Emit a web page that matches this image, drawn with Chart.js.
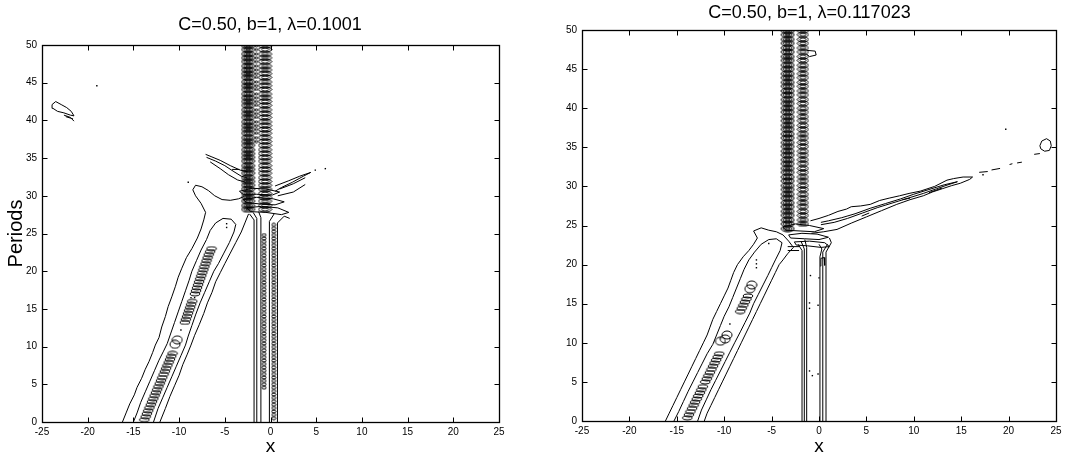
<!DOCTYPE html>
<html>
<head>
<meta charset="utf-8">
<script src="https://cdn.jsdelivr.net/npm/chart.js@4.4.1/dist/chart.umd.min.js"></script>
<style>
  html, body { margin: 0; background: #fff; }
  #wrap { position: relative; width: 1092px; height: 459px; }
  canvas { position: absolute; top: 0; }
</style>
</head>
<body>
<div id="wrap">
  <canvas id="left" width="540" height="459" style="left:0"></canvas>
  <canvas id="right" width="539" height="459" style="left:540px"></canvas>
</div>
<script>
// axis ticks and titles
const xTickVals = [-25, -20, -15, -10, -5, 0, 5, 10, 15, 20, 25];
const yTickVals = [0, 5, 10, 15, 20, 25, 30, 35, 40, 45, 50];
const titleL = 'C=0.50, b=1, \u03bb=0.1001';
const titleR = 'C=0.50, b=1, \u03bb=0.117023';

// ---------- left panel contours (x, Periods) ----------
const bandOuterL = [[-16.2,0],[-15.8,1.2],[-15.4,2.4],[-14.9,3.6],[-14.6,4.6],[-14.1,5.8],[-13.7,7.0],[-13.3,8.0],[-12.9,9.2],[-12.6,10.2],[-12.2,11.2],[-11.9,12.6],[-11.5,14.0],[-11.2,15.3],[-10.8,16.6],[-10.4,18.0],[-10.1,19.2],[-9.7,20.4],[-9.2,21.8],[-8.6,23.0],[-8.0,24.4],[-7.6,25.6],[-7.3,26.8],[-7.1,27.8],[-7.6,29.0],[-8.2,30.0],[-8.5,30.8],[-8.2,31.4],[-7.5,31.2],[-6.8,30.7],[-6.1,30.0],[-5.3,29.5],[-4.4,29.4],[-3.5,29.6],[-2.9,29.9]];
const bandOuterRightL = [[-2.4,27.6],[-2.8,26.4],[-3.2,25.2],[-3.8,23.8],[-4.4,22.4],[-5.0,21.0],[-5.5,19.8],[-6.0,18.6],[-6.4,17.2],[-6.9,15.8],[-7.3,14.4],[-7.8,12.9],[-8.3,11.5],[-8.7,10.2],[-9.1,9.0],[-9.6,7.6],[-10.0,6.2],[-10.5,4.8],[-11.0,3.4],[-11.5,1.8],[-12.1,0]];
const midL = [[-15.0,0],[-14.6,1.2],[-14.2,2.6],[-13.7,4.0],[-13.2,5.4],[-12.7,6.8],[-12.2,8.2],[-11.7,9.4],[-11.3,10.4],[-10.9,11.8],[-10.5,13.2],[-10.1,14.6],[-9.7,16.0],[-9.3,17.4],[-8.9,18.8],[-8.6,20.0],[-8.1,21.4],[-7.6,22.8],[-7.0,24.2],[-6.6,25.4],[-6.0,26.4],[-5.2,27.0],[-4.3,26.9],[-3.8,26.2],[-4.0,25.2],[-4.5,23.8],[-5.1,22.4],[-5.7,21.0],[-6.2,20.0],[-6.7,18.6],[-7.2,17.2],[-7.7,15.8],[-8.2,14.2],[-8.6,12.8],[-9.0,11.4],[-9.3,10.2],[-9.8,8.8],[-10.3,7.4],[-10.8,6.0],[-11.3,4.6],[-11.8,3.2],[-12.3,1.8],[-12.8,0]];
const coresL = [[-13.8,0.3],[-13.66,0.7],[-13.52,1.1],[-13.38,1.5],[-13.24,1.9],[-13.1,2.3],[-12.96,2.7],[-12.82,3.1],[-12.68,3.5],[-12.54,3.9],[-12.4,4.3],[-12.26,4.7],[-12.12,5.1],[-11.98,5.5],[-11.84,5.9],[-11.7,6.3],[-11.56,6.7],[-11.42,7.1],[-11.28,7.5],[-11.14,7.9],[-11.0,8.3],[-10.86,8.7],[-10.72,9.1],
  [-9.37,13.2],[-9.26,13.6],[-9.14,14.0],[-9.02,14.4],[-8.91,14.8],[-8.79,15.2],[-8.68,15.6],[-8.56,16.0],
  [-8.27,17.0],[-8.15,17.4],[-8.04,17.8],[-7.92,18.2],[-7.81,18.6],[-7.69,19.0],[-7.57,19.4],[-7.46,19.8],[-7.34,20.2],[-7.23,20.6],[-7.11,21.0],[-7.0,21.4],[-6.88,21.8],[-6.76,22.2],[-6.6,22.6],[-6.45,23.0]];
const blobCoresL = [[-10.45,10.3],[-10.2,10.9]];
const dotsL = [[-9.8,12.2],[-8.7,16.5],[-8.3,16.5],[-4.8,25.8],[-4.8,26.3],[-19.0,44.6],[-9.0,31.8],[4.9,33.4],[6.0,33.6]];
const lowerBeamL = [
  [[-1.8,0],[-1.8,26.8],[-2.3,27.6]],
  [[-1.5,0],[-1.5,27.0],[-1.9,27.8]],
  [[-1.05,0],[-1.05,27.1],[-1.3,27.9]],
  [[-0.12,0],[-0.12,26.6],[0.4,27.6]],
  [[0.76,0],[0.76,26.4],[1.5,27.3],[2.1,27.0]]
];
const crossL = [
  [[-3.4,30.6],[-2.0,31.0],[-0.5,30.9],[1.0,30.5],[0.2,30.1],[-1.5,30.2],[-3.0,30.2],[-3.4,30.6]],
  [[-3.0,29.5],[-1.5,29.8],[0.3,29.6],[1.5,29.2],[0.5,28.8],[-1.0,28.9],[-2.6,29.1],[-3.0,29.5]],
  [[-2.6,28.4],[-1.0,28.6],[0.8,28.4],[2.0,27.8],[1.2,27.5],[-0.5,27.8],[-2.2,27.9],[-2.6,28.4]]
];
const wingsL = [
  [[0.5,31.3],[2.0,32.0],[3.2,32.6],[4.4,33.1],[3.6,32.6],[2.4,31.8],[1.2,31.1],[0.5,30.6]],
  [[1.0,30.9],[2.5,31.6],[3.8,32.4]],
  [[0.8,30.0],[2.5,30.5],[3.8,31.5]],
  [[-7.1,35.5],[-6.5,35.2],[-5.5,34.7],[-4.4,34.0],[-3.3,33.4],[-2.5,33.2]],
  [[-7.0,35.1],[-6.0,34.6],[-5.0,34.0],[-4.0,33.2],[-3.2,32.6],[-2.6,32.4]],
  [[-6.6,34.5],[-5.5,33.6],[-4.6,32.8],[-3.6,32.1],[-2.7,31.8]],
  [[-4.2,33.5],[-3.4,33.5]]
];
const blobL = [[-23.9,42.1],[-23.5,42.5],[-22.9,42.1],[-22.3,41.7],[-21.8,41.2],[-21.5,40.6],[-21.9,40.7],[-22.6,41.0],[-23.3,41.2],[-23.8,41.6],[-23.9,42.1]];
const blobTailL = [[[-22.6,40.7],[-21.9,40.4],[-21.5,39.9]],[[-22.4,40.5],[-21.6,40.2]]];
const ringRowsL = [28.2,28.7,29.3,29.8,30.3,30.9,31.4,31.9,32.4,33.0,33.5,34.0,34.6,35.1,35.6,36.1,36.7,37.2,37.7,38.3,38.8,39.3,39.8,40.4,40.9,41.4,42.0,42.5,43.0,43.5,44.1,44.6,45.1,45.7,46.2,46.7,47.2,47.8,48.3,48.8,49.4,49.9];
const wigRowsL = [0.5,0.95,1.4,1.85,2.3,2.75,3.2,3.65,4.1,4.55,5.0,5.45,5.9,6.35,6.8,7.25,7.7,8.15,8.6,9.05,9.5,9.95,10.4,10.85,11.3,11.75,12.2,12.65,13.1,13.55,14.0,14.45,14.9,15.35,15.8,16.25,16.7,17.15,17.6,18.05,18.5,18.95,19.4,19.85,20.3,20.75,21.2,21.65,22.1,22.55,23.0,23.45,23.9,24.35,24.8,25.25,25.7,26.15];

// ---------- right panel contours ----------
const bandOuterR = [[-16.2,0],[-15.8,1.0],[-15.4,2.0],[-15.0,3.0],[-14.6,4.0],[-14.2,5.0],[-13.8,6.0],[-13.4,7.0],[-13.0,8.0],[-12.6,9.0],[-12.2,10.0],[-11.8,11.0],[-11.5,12.0],[-11.2,13.0],[-10.8,14.0],[-10.4,15.0],[-10.0,16.0],[-9.6,17.0],[-9.3,18.0],[-9.0,19.0],[-8.6,20.0],[-8.0,21.0],[-7.4,21.8],[-6.9,22.6],[-6.5,23.4],[-6.9,24.3],[-6.1,24.7],[-5.3,24.4],[-4.5,24.2],[-3.8,23.8],[-3.2,23.0],[-2.7,22.2],[-3.3,21.4],[-3.8,20.6],[-4.2,20.0],[-4.6,19.0],[-5.0,18.0],[-5.4,17.0],[-5.8,16.0],[-6.2,15.0],[-6.6,14.0],[-7.0,13.0],[-7.4,12.0],[-7.8,11.0],[-8.2,10.0],[-8.6,9.0],[-9.0,8.0],[-9.4,7.0],[-9.8,6.0],[-10.2,5.0],[-10.6,4.0],[-11.0,3.0],[-11.4,2.0],[-11.8,1.0],[-12.1,0]];
const midR = [[-15.3,0],[-14.8,1.2],[-14.3,2.5],[-13.8,3.8],[-13.3,5.0],[-12.8,6.2],[-12.3,7.4],[-11.8,8.6],[-11.2,9.8],[-10.8,11.0],[-10.4,12.2],[-10.0,13.4],[-9.5,14.6],[-9.1,15.8],[-8.7,17.0],[-8.3,18.2],[-7.9,19.4],[-7.4,20.6],[-6.8,21.6],[-6.1,22.6],[-5.3,23.2],[-4.5,23.3],[-3.9,22.8],[-4.1,21.8],[-4.6,20.6],[-5.0,19.6],[-5.4,18.6],[-5.9,17.4],[-6.4,16.2],[-6.9,15.0],[-7.3,13.8],[-7.8,12.6],[-8.3,11.4],[-8.9,10.0],[-9.4,8.8],[-9.9,7.6],[-10.4,6.4],[-10.9,5.2],[-11.4,4.0],[-11.9,2.7],[-12.4,1.4],[-12.8,0]];
const coresR = [[-13.89,0.4],[-13.72,0.8],[-13.56,1.2],[-13.39,1.6],[-13.23,2.0],[-13.07,2.4],[-12.9,2.8],[-12.74,3.2],[-12.57,3.6],[-12.41,4.0],[-12.25,4.4],
  [-12.0,5.0],[-11.84,5.4],[-11.67,5.8],[-11.51,6.2],[-11.34,6.6],[-11.18,7.0],[-11.02,7.4],[-10.85,7.8],[-10.69,8.2],[-10.52,8.6],
  [-8.31,14.0],[-8.15,14.4],[-7.98,14.8],[-7.82,15.2],[-7.65,15.6],[-7.49,16.0]];
const blobCoresR = [[-10.4,10.2],[-9.9,10.5],[-9.7,11.0],[-7.3,16.9],[-7.1,17.4]];
const dotsR = [[-9.4,12.4],[-6.6,19.6],[-6.6,20.1],[-6.6,20.6],[-5.3,22.7],[-1.0,6.4],[-0.7,5.8],[-0.1,6.0],[-1.0,15.1],[-1.0,14.4],[-0.1,14.8],[-0.9,18.6],[0.0,18.3],[17.3,31.5],[19.7,37.3]];
const lowerBeamR = [
  [[-1.79,0],[-1.79,21.8],[-2.2,22.6]],
  [[-1.55,0],[-1.55,22.0],[-1.9,23.0]],
  [[-1.3,0],[-1.3,22.2],[-1.5,23.2]],
  [[0.1,0],[0.1,21.0],[0.3,22.0],[0.0,22.6]],
  [[0.4,0],[0.4,21.6],[0.9,22.6]],
  [[0.74,0],[0.74,21.6],[1.3,22.8],[1.1,23.4]],
  [[0.15,19.8],[0.2,20.8],[0.55,20.9],[0.6,19.9]]
];
const crossR = [
  [[-3.8,24.8],[-2.5,25.2],[-1.0,25.0],[0.5,24.6],[-0.5,24.2],[-2.0,24.3],[-3.5,24.4],[-3.8,24.8]],
  [[-3.2,23.8],[-1.8,24.0],[-0.2,23.9],[1.0,23.5],[0.0,23.2],[-1.5,23.3],[-3.0,23.4],[-3.2,23.8]],
  [[-2.6,22.9],[-1.0,23.0],[0.6,22.8],[1.1,22.3],[0.2,22.2],[-1.2,22.4],[-2.4,22.5],[-2.6,22.9]],
  [[-3.3,22.3],[-2.1,22.3]],
  [[-3.3,21.8],[-2.1,21.8]],
  [[-1.3,47.4],[-0.4,47.3],[-0.3,46.8],[-1.0,46.6],[-1.3,46.9]]
];
const rayOuterR = [[-0.8,24.0],[0.5,24.2],[1.9,24.5],[3.4,25.3],[5.0,26.1],[6.6,26.9],[8.2,27.7],[9.6,28.3],[11.0,28.8],[12.0,29.3],[13.0,29.7],[14.0,30.1],[14.9,30.4],[15.9,30.9],[16.2,31.2],[15.2,31.2],[14.2,31.0],[13.5,30.8],[12.2,30.0],[10.7,29.4],[9.5,29.1],[8.5,28.8],[7.4,28.5],[6.4,28.2],[5.4,27.7],[4.4,27.5],[3.4,27.4],[2.9,27.1],[2.0,26.8],[1.0,26.3],[0.0,25.9],[-0.9,25.6]];
const rayInnerR = [[0.2,25.1],[1.6,25.4],[3.0,25.9],[4.6,26.6],[6.2,27.3],[7.8,27.9],[9.4,28.5],[11.0,29.1],[12.4,29.7],[13.6,30.2],[14.6,30.6],[13.2,30.2],[11.6,29.6],[10.0,29.0],[8.6,28.4],[7.0,27.8],[5.4,27.2],[3.8,26.5],[2.4,26.0],[1.0,25.6],[0.2,25.4]];
const rayDashesR = [
  [[8.8,28.3],[9.6,28.5]], [[4.5,26.2],[5.3,26.6]], [[11.6,29.2],[13.0,29.8]],
  [[16.9,31.8],[17.8,31.9]], [[18.2,32.1],[19.1,32.3]], [[20.1,32.8],[20.4,32.9]],
  [[20.9,33.0],[21.4,33.1]], [[22.7,34.1],[23.3,34.2]]
];
const blobR = [[23.3,35.2],[23.5,35.8],[24.0,36.1],[24.4,35.8],[24.5,35.2],[24.3,34.6],[23.8,34.5],[23.4,34.8],[23.3,35.2]];
const ringRowsR = [24.6,25.2,25.7,26.3,26.8,27.4,27.9,28.5,29.0,29.6,30.1,30.7,31.2,31.8,32.3,32.9,33.4,34.0,34.5,35.1,35.6,36.2,36.7,37.3,37.8,38.4,38.9,39.5,40.0,40.6,41.1,41.7,42.2,42.8,43.3,43.9,44.4,45.0,45.5,46.1,46.6,47.2,47.7,48.3,48.8,49.4,49.9];

// hollow ellipse used as point marker for the small closed contours
function ellipseImg(w, h) {
  const c = document.createElement('canvas');
  c.width = w + 2; c.height = h + 2;
  const g = c.getContext('2d');
  g.strokeStyle = '#000'; g.lineWidth = 1;
  g.beginPath();
  g.ellipse(c.width / 2, c.height / 2, w / 2, h / 2, 0, 0, Math.PI * 2);
  g.stroke();
  return c;
}

function curve(pts) {
  return { data: pts.map(([x, y]) => ({ x, y })), showLine: true, pointRadius: 0,
    borderColor: '#000', borderWidth: 1, fill: false };
}
function marks(pts, img) {
  return { data: pts.map(([x, y]) => ({ x, y })), showLine: false, pointStyle: img, pointRadius: 3 };
}
function beads(x, rows, lo, hi, img) {
  return { data: rows.filter(y => y >= lo && y <= hi).map(y => ({ x, y })), showLine: false,
    pointStyle: img, pointRadius: 3 };
}
function dots(pts) {
  return { data: pts.map(([x, y]) => ({ x, y })), showLine: false, pointStyle: 'rect',
    pointRadius: 1, backgroundColor: '#000', borderWidth: 0 };
}

// box with inward ticks on all four sides
const boxPlugin = {
  id: 'box',
  afterDraw(chart) {
    const { ctx, chartArea: a, scales: { x, y } } = chart;
    const L = Math.round(a.left) + 0.5, R = Math.round(a.right) + 0.5;
    const T = Math.round(a.top) + 0.5, B = Math.round(a.bottom) + 0.5;
    ctx.save();
    ctx.strokeStyle = '#000';
    ctx.lineWidth = 1;
    ctx.beginPath();
    xTickVals.forEach(v => {
      const p = Math.round(x.getPixelForValue(v)) + 0.5;
      ctx.moveTo(p, B); ctx.lineTo(p, B - 5);
      ctx.moveTo(p, T); ctx.lineTo(p, T + 5);
    });
    yTickVals.forEach(v => {
      const p = Math.round(y.getPixelForValue(v)) + 0.5;
      ctx.moveTo(L, p); ctx.lineTo(L + 5, p);
      ctx.moveTo(R, p); ctx.lineTo(R - 5, p);
    });
    ctx.stroke();
    ctx.lineWidth = 1.3;
    ctx.strokeRect(L, T, R - L, B - T);
    ctx.restore();
  }
};

Chart.defaults.font.family = '"Liberation Sans", Arial, sans-serif';
Chart.defaults.color = '#000';

function makeChart(id, datasets, o) {
  return new Chart(document.getElementById(id), {
    type: 'scatter',
    data: { datasets },
    options: {
      responsive: false,
      devicePixelRatio: 1,
      animation: false,
      events: [],
      plugins: {
        legend: { display: false },
        tooltip: { enabled: false },
        title: { display: true, text: o.title, color: '#000',
          font: { size: 18, weight: 'normal' }, padding: o.titlePad }
      },
      scales: {
        x: {
          type: 'linear', min: -25, max: 25, position: 'bottom',
          afterBuildTicks: s => { s.ticks = xTickVals.map(v => ({ value: v })); },
          afterFit: s => { s.height = o.xh; },
          grid: { display: false, drawTicks: false }, border: { display: false },
          ticks: { color: '#000', font: { size: 10 }, padding: 4, maxRotation: 0, autoSkip: false },
          title: { display: true, text: 'x', color: '#000', font: { size: 19 }, padding: { top: 0, bottom: 1 } }
        },
        y: {
          type: 'linear', min: 0, max: 50, position: 'left',
          afterBuildTicks: s => { s.ticks = yTickVals.map(v => ({ value: v })); },
          afterFit: s => { s.width = 42; },
          grid: { display: false, drawTicks: false }, border: { display: false },
          ticks: { color: '#000', font: { size: 10 }, padding: 5, autoSkip: false },
          title: { display: o.ylabel, text: 'Periods', color: '#000', font: { size: 20 }, padding: { top: 4, bottom: 0 } }
        },
        yr: {
          type: 'linear', min: 0, max: 50, position: 'right',
          afterFit: s => { s.width = o.rw; },
          grid: { display: false, drawTicks: false }, border: { display: false },
          ticks: { display: false }
        }
      }
    },
    plugins: [boxPlugin]
  });
}

const coreImg = ellipseImg(10, 4);
const blobImg = ellipseImg(10, 8);
const wigImg = ellipseImg(4, 3);

const leftSets = [
  curve(bandOuterL), curve(bandOuterRightL), curve(midL),
  marks(coresL, coreImg), marks(blobCoresL, blobImg), dots(dotsL),
  ...lowerBeamL.map(curve), ...crossL.map(curve), ...wingsL.map(curve),
  curve(blobL), ...blobTailL.map(curve),
  beads(-0.7, wigRowsL, 4.5, 25, wigImg), beads(0.35, wigRowsL, 0.4, 26.5, wigImg),
  beads(-2.45, ringRowsL, 28, 50, ellipseImg(13, 6)), beads(-2.45, ringRowsL, 28, 50, ellipseImg(9, 4)),
  beads(-2.45, ringRowsL, 28, 50, ellipseImg(5, 2)),
  beads(-0.6, ringRowsL, 28, 50, ellipseImg(13, 5)), beads(-0.6, ringRowsL, 28, 50, ellipseImg(7, 3)),
  beads(-1.55, ringRowsL, 37, 50, ellipseImg(3, 2))
];

const rightSets = [
  curve(bandOuterR), curve(midR),
  marks(coresR, coreImg), marks(blobCoresR, blobImg), dots(dotsR),
  ...lowerBeamR.map(curve), ...crossR.map(curve),
  curve(rayOuterR), curve(rayInnerR), ...rayDashesR.map(curve), curve(blobR),
  beads(-3.3, ringRowsR, 24.5, 50, ellipseImg(13, 6)), beads(-3.3, ringRowsR, 24.5, 50, ellipseImg(9, 4)),
  beads(-3.3, ringRowsR, 24.5, 50, ellipseImg(5, 2)),
  beads(-1.7, ringRowsR, 25, 50, ellipseImg(11, 5)), beads(-1.7, ringRowsR, 25, 50, ellipseImg(6, 3))
];

makeChart('left', leftSets, { title: titleL, titlePad: { top: 14, bottom: 9.4 }, xh: 37, rw: 41, ylabel: true });
makeChart('right', rightSets, { title: titleR, titlePad: { top: 2, bottom: 6.4 }, xh: 38, rw: 23, ylabel: false });
</script>
</body>
</html>
